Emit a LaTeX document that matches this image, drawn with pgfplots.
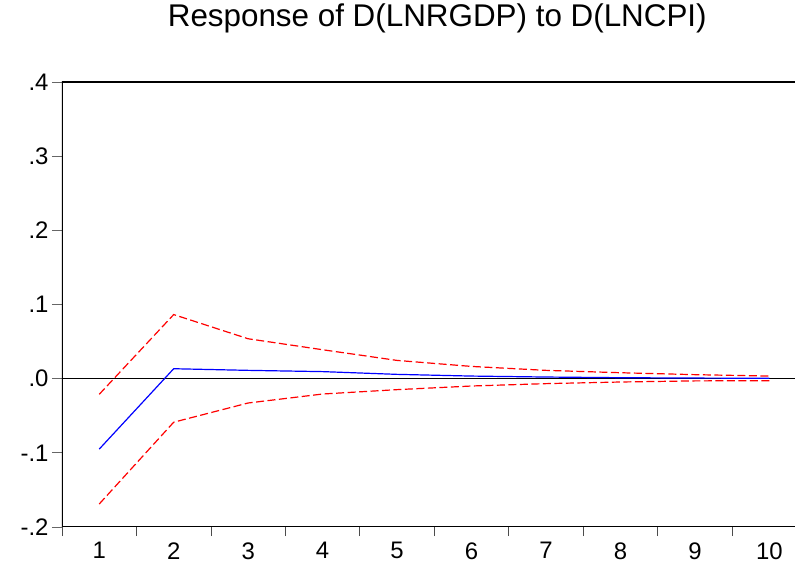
\documentclass[border=0pt]{standalone}
\usepackage{fontspec}
\setmainfont{Liberation Sans}
\usepackage{pgfplots}
\pgfplotsset{compat=1.18}

\begin{document}
\begin{tikzpicture}
\useasboundingbox (-62bp,-43bp) rectangle (733bp,527bp);
\begin{axis}[
    at={(0,0)}, anchor=south west,
    scale only axis,
    width=733bp, height=445bp,
    xmin=0.5, xmax=10.344,
    ymin=-0.2, ymax=0.4,
    axis line style={draw=none},
    tick align=outside,
    xtick pos=bottom, ytick pos=left,
    xtick={1,2,3,4,5,6,7,8,9,10},
    xticklabels={1,2,3,4,5,6,7,8,9,10},
    major x tick style={draw=none},
    minor xtick={0.5,1.5,2.5,3.5,4.5,5.5,6.5,7.5,8.5,9.5},
    minor tick length=9bp,
    minor x tick style={black!70, line width=0.8bp},
    ytick={-0.2,-0.1,0,0.1,0.2,0.3,0.4},
    yticklabels={-.2,-.1,.0,.1,.2,.3,.4},
    major tick length=10bp,
    major y tick style={black!60, line width=0.8bp},
    tick label style={font=\fontsize{24}{24}\selectfont},
    xticklabel style={yshift=-2bp},
    title={Response of D(LNRGDP) to D(LNCPI)},
    title style={font=\fontsize{31.5}{31.5}\selectfont, at={(0.512,1)}, anchor=base, yshift=50bp},
]
  \draw[black, line width=1.6bp] (rel axis cs:1,1) -- (rel axis cs:0,1) -- (rel axis cs:0,0) -- (rel axis cs:1,0);
  \draw[black, line width=0.9bp] (axis cs:0.5,0) -- (axis cs:10.344,0);

  % upper band
  \addplot[red, line width=1.2bp, dash pattern=on 8bp off 3.5bp] coordinates {
    (1,-0.0211) (2,0.0864) (3,0.0538) (4,0.039) (5,0.0246)
    (6,0.0165) (7,0.0112) (8,0.008) (9,0.0054) (10,0.0035)
  };
  % response
  \addplot[blue, line width=1.2bp] coordinates {
    (1,-0.095) (2,0.0134) (3,0.0112) (4,0.0095) (5,0.0058)
    (6,0.0035) (7,0.0022) (8,0.0013) (9,0.0008) (10,0.0005)
  };
  % lower band
  \addplot[red, line width=1.2bp, dash pattern=on 8bp off 3.5bp] coordinates {
    (1,-0.169) (2,-0.0587) (3,-0.0328) (4,-0.0207) (5,-0.0148)
    (6,-0.0099) (7,-0.0067) (8,-0.0045) (9,-0.003) (10,-0.0027)
  };
\end{axis}
\end{tikzpicture}
\end{document}
